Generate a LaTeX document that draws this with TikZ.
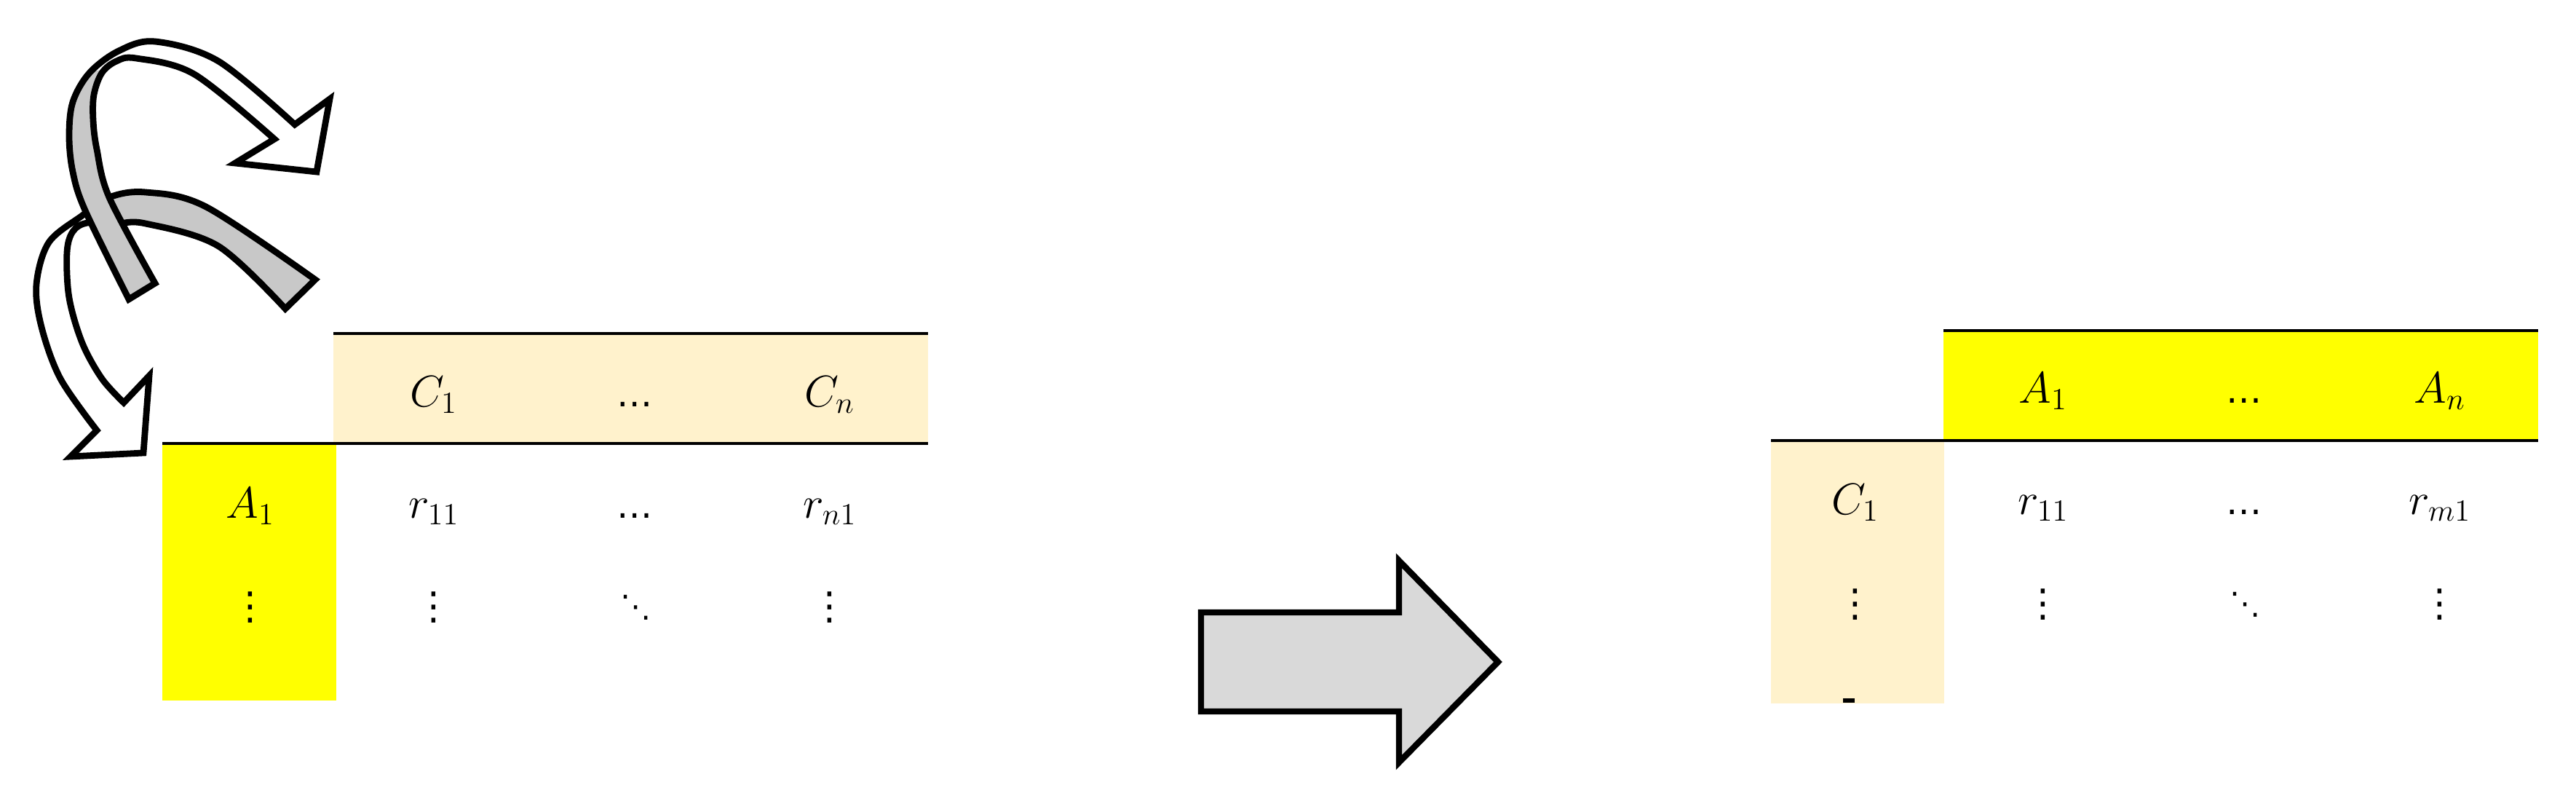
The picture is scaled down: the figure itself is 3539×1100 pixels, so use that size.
\documentclass[tikz,border=0pt]{standalone}
\usepackage{fontspec}
\newfontfamily\dotsfont{DejaVu Sans}
\definecolor{hdrbeige}{HTML}{FFF2CC}
\definecolor{hiyellow}{HTML}{FFFF00}
\definecolor{ribgray}{HTML}{C8C8C8}
\definecolor{arrowgray}{HTML}{D9D9D9}
\newcommand{\myvdots}{{\dotsfont ⋮}}
\newcommand{\myddots}{{\dotsfont ⋱}}
\newcommand{\myldots}{{\dotsfont …}}
\begin{document}
\begin{tikzpicture}[x=0.01cm,y=-0.01cm,
  cell/.style={anchor=base,inner sep=0pt,font=\fontsize{17.28}{20}\selectfont},
  dotcell/.style={anchor=center,inner sep=0pt,font=\fontsize{15}{18}\selectfont},
  ddotcell/.style={anchor=center,inner sep=0pt,font=\fontsize{12}{14}\selectfont},
  dotbase/.style={anchor=base,inner sep=0pt,font=\fontsize{14}{16}\selectfont},
  rib/.style={draw=black,line width=2.5pt,line join=miter},
  rule/.style={draw=black,line width=1.4pt},
  bigarrow/.style={draw=black,fill=arrowgray,line width=2.4pt,line join=miter},
  upperrib/.style={insert path={(177,411) -- plot[smooth,tension=0.55] coordinates {(177,411) (117,289) (100,236) (95,187) (100,140) (123,100) (163,70) (213,57) (300,84) (405,171)} -- (453,136) -- (435,236) -- (323,224) -- plot[smooth,tension=0.55] coordinates {(377,191) (267,102) (187,80) (160,84) (140,100) (129,130) (128,165) (133,205) (150,271) (213,389)} -- cycle}},
  lowerrib/.style={insert path={(433,384) -- plot[smooth,tension=0.55] coordinates {(433,384) (283,284) (200,264) (150,271) (113,296) (67,333) (50,391) (57,449) (83,520) (133,591)} -- (97,627) -- (197,622) -- (205,516) -- plot[smooth,tension=0.55] coordinates {(170,553) (140,520) (113,471) (95,409) (92,347) (100,318) (120,306) (160,307) (200,307) (300,338) (392,424)} -- cycle}},
]
\useasboundingbox (0,0) rectangle (3539,1100);

% ---------- curved arrows ----------
\fill[white,lowerrib];
\begin{scope}
  \clip[lowerrib];
  \fill[ribgray] (135,240) rectangle (460,440);
\end{scope}
\draw[rib,lowerrib];

\fill[white,upperrib];
\begin{scope}
  \clip[upperrib];
  \fill[ribgray] (0,102) -- (150,96) -- (150,245) -- (320,245) -- (320,500) -- (0,500) -- cycle;
\end{scope}
\draw[rib,upperrib];

% ---------- left table ----------
\fill[hdrbeige] (458,458) rectangle (1275,609);
\fill[hiyellow] (223,609) rectangle (462,962);
\draw[rule] (458,458) -- (1275,458);
\draw[rule] (223,609) -- (1275,609);

\node[cell] (lc1) at (596,558) {$C_1$};
\node[dotbase] (lch) at (872,558) {\myldots};
\node[cell] (lcn) at (1140,558) {$C_n$};
\node[cell] (la1) at (344,711) {$A_1$};
\node[cell] (lr11) at (596,711) {$r_{11}$};
\node[dotbase] (lrh) at (872,711) {\myldots};
\node[cell] (lrn1) at (1140,711) {$r_{n1}$};
\node[dotcell] (lv0) at (344,834) {\myvdots};
\node[dotcell] (lv1) at (596,834) {\myvdots};
\node[ddotcell] (ldd) at (874,834) {\myddots};
\node[dotcell] (lv3) at (1140,834) {\myvdots};

% ---------- big arrow ----------
\draw[bigarrow] (1650,841) -- (1922,841) -- (1922,770) -- (2058,909) -- (1922,1047) -- (1922,977) -- (1650,977) -- cycle;

% ---------- right table ----------
\fill[hiyellow] (2670,454) rectangle (3487,605);
\fill[hdrbeige] (2433,605) rectangle (2671,966);
\draw[rule] (2670,454) -- (3487,454);
\draw[rule] (2433,605) -- (3487,605);
\fill[black] (2532,959) rectangle (2548,965);

\node[cell] (ra1) at (2807,553) {$A_1$};
\node[dotbase] (rah) at (3083,553) {\myldots};
\node[cell] (ran) at (3352,553) {$A_n$};
\node[cell] (rc1) at (2549,706) {$C_1$};
\node[cell] (rr11) at (2807,706) {$r_{11}$};
\node[dotbase] (rrh) at (3083,706) {\myldots};
\node[cell] (rrm1) at (3352,706) {$r_{m1}$};
\node[dotcell] (rv0) at (2549,830) {\myvdots};
\node[dotcell] (rv1) at (2807,830) {\myvdots};
\node[ddotcell] (rdd) at (3085,830) {\myddots};
\node[dotcell] (rv3) at (3352,830) {\myvdots};
\end{tikzpicture}
\end{document}
